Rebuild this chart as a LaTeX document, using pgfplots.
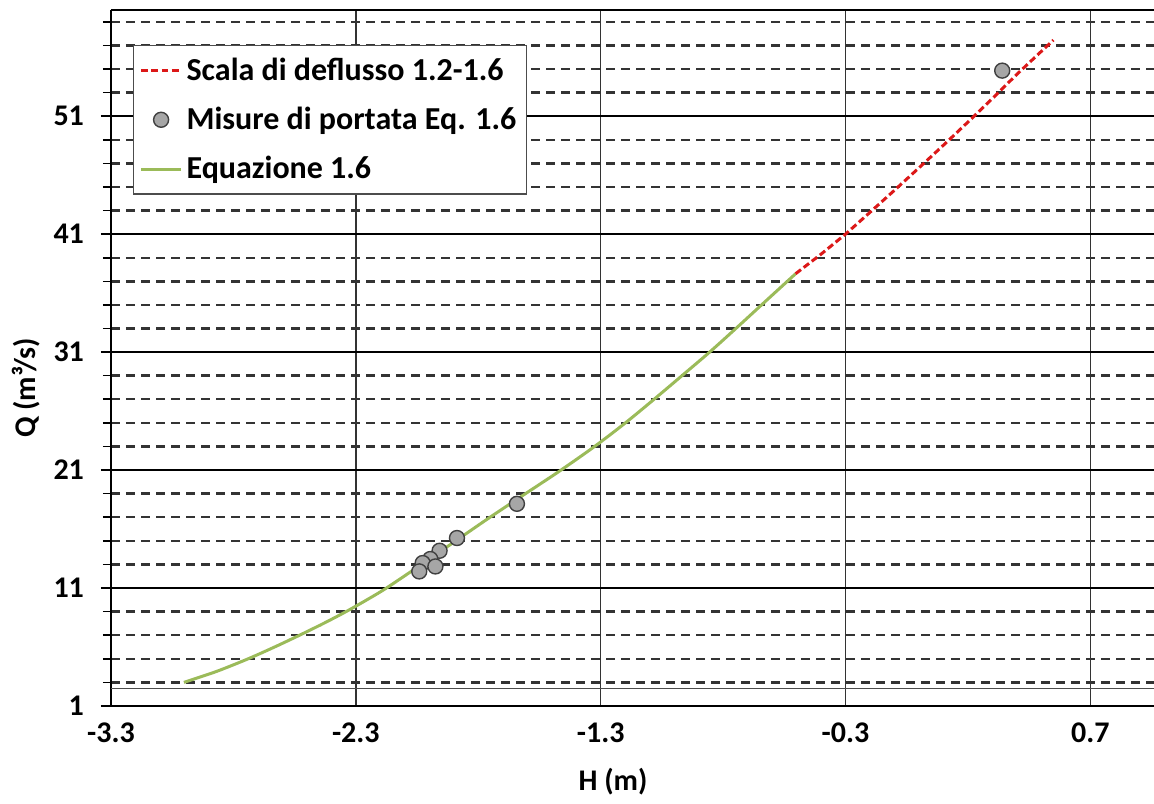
\documentclass[border=0pt]{standalone}
\usepackage{pgfplots}
\pgfplotsset{compat=1.18}
\usepackage{fontspec}
\setmainfont{Carlito}

\definecolor{eqgreen}{RGB}{155,187,89}
\definecolor{scalared}{RGB}{220,24,24}
\definecolor{ptgray}{RGB}{166,166,166}
\definecolor{ptedge}{RGB}{64,64,64}

\pgfplotsset{
  short line legend/.style={legend image code/.code={\draw[##1] (0pt,0pt) -- (20pt,0pt);}},
  dot legend/.style={legend image code/.code={\draw[##1, only marks] plot coordinates {(10pt,0pt)};}},
}

\begin{document}
\begin{tikzpicture}
  \begin{axis}[
    scale only axis, width=521.5pt, height=348pt,
    xmin=-3.3, xmax=0.96, ymin=1, ymax=60,
    axis x line=box, axis y line=left,
    axis line style={-, line width=1pt, black},
    xtick={-3.3,-2.3,-1.3,-0.3,0.7},
    xticklabels={-3.3,-2.3,-1.3,-0.3,0.7},
    ytick={1,11,21,31,41,51},
    yticklabels={1,11,21,31,41,51},
    minor ytick={3,5,7,9,13,15,17,19,23,25,27,29,33,35,37,39,43,45,47,49,53,55,57,59},
    xmajorgrids, ymajorgrids, yminorgrids,
    major x grid style={black!80, line width=0.7pt},
    major y grid style={black, line width=0.9pt},
    minor y grid style={black!80, line width=1.2pt, dash pattern=on 4.5pt off 3pt},
    tick align=outside, major tick length=5pt, minor tick length=4pt,
    ytick style={black, line width=0.8pt},
    xtick style={draw=none},
    ticklabel style={font=\bfseries\fontsize{15}{18}\selectfont},
    y tick label style={xshift=-5pt},
    xlabel={H (m)}, ylabel={Q (m³/s)},
    label style={font=\bfseries\fontsize{15}{18}\selectfont},
    xlabel style={at={(axis description cs:0.4813,-0.1092)}, anchor=center},
    ylabel style={at={(axis description cs:-0.0815,0.457)}, anchor=center},
    legend style={at={(axis description cs:0,1)}, anchor=north west,
      xshift=11pt, yshift=-17.5pt, draw=black!70, line width=0.6pt,
      font=\bfseries\fontsize{16}{19}\selectfont, row sep=8pt,
      inner xsep=3pt, inner ysep=4pt, cells={anchor=west}},
  ]
    % linea sottile vicino all'asse
    \addplot[black!70, line width=0.5pt, forget plot]
      coordinates {(-3.3,2.5) (0.96,2.5)};

    % Equazione 1.6 (disegnata sotto i punti)
    \addplot[eqgreen, line width=1.5pt, smooth, forget plot] coordinates {
      (-3.002,3.0) (-2.93,3.5) (-2.860,4.0) (-2.740,5.0) (-2.632,6.0)
      (-2.530,7.0) (-2.432,8.0) (-2.340,9.0) (-2.255,10.0)
      (-2.175,11.0) (-2.032,13.0) (-1.892,15.0) (-1.752,17.0) (-1.607,19.0)
      (-1.462,21.0) (-1.325,23.0) (-1.199,25.0) (-1.082,27.0) (-0.968,29.0)
      (-0.855,31.0) (-0.748,33.0) (-0.643,35.0) (-0.504,37.64)
    };

    % Scala di deflusso
    \addplot[scalared, line width=1.5pt, dash pattern=on 3.4pt off 1.7pt,
      short line legend] coordinates {
      (-0.504,37.64) (-0.4,39.3) (-0.3,41.0) (-0.2,42.85) (-0.1,44.72)
      (0.0,46.62) (0.1,48.54) (0.2,50.5) (0.3,52.5) (0.4,54.55)
      (0.5,56.5) (0.549,57.45)
    };
    \addlegendentry{Scala di deflusso 1.2-1.6}

    % Misure di portata
    \addplot[only marks, mark=*, mark size=3.75pt,
      mark options={fill=ptgray, draw=ptedge, line width=0.7pt},
      dot legend] coordinates {
      (-1.642,18.14) (-1.887,15.24) (-1.958,14.16) (-1.996,13.46)
      (-2.027,13.12) (-1.975,12.83) (-2.041,12.41) (0.340,54.86)
    };
    \addlegendentry{Misure di portata Eq. 1.6}

    \addlegendimage{eqgreen, line width=1.5pt, short line legend}
    \addlegendentry{Equazione 1.6}
  \end{axis}
  \pgfresetboundingbox
  \path (-55.5pt,-48.5pt) rectangle (521.5pt,353pt);
\end{tikzpicture}
\end{document}
